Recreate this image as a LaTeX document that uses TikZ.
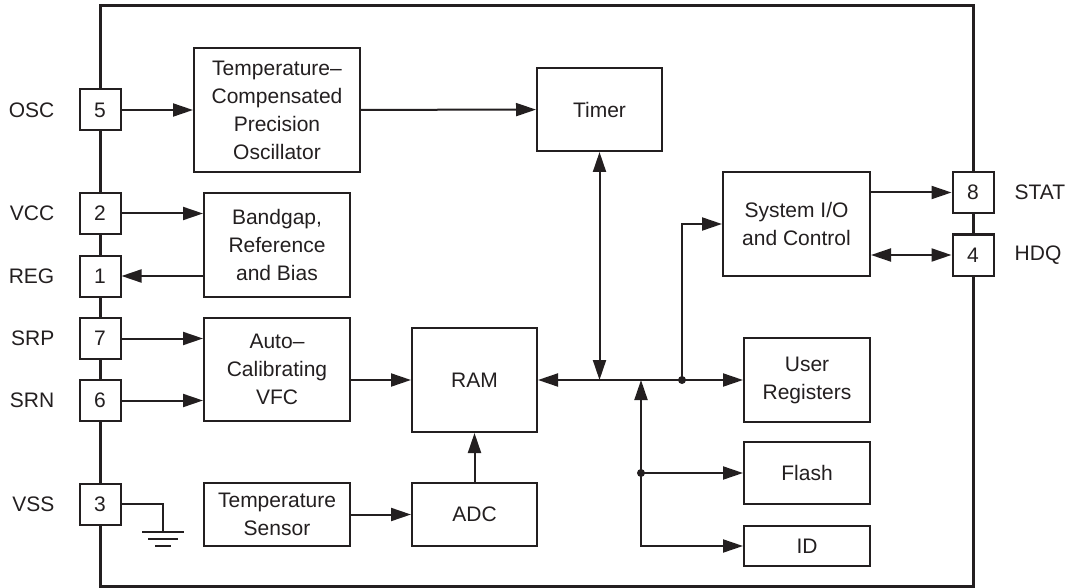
\documentclass[tikz,border=0pt]{standalone}
\usepackage{fontspec}
\setmainfont{Liberation Sans}
\usetikzlibrary{arrows.meta,positioning}
\definecolor{ink}{HTML}{231F20}
\tikzset{
  blk/.style={draw=ink,line width=2pt,fill=white,align=center,inner sep=0pt},
  pinbox/.style={draw=ink,line width=2pt,fill=white,minimum width=41pt,minimum height=41pt,inner sep=0pt},
  pinlbl/.style={inner sep=0pt,text=ink},
  wire/.style={draw=ink,line width=2pt},
}
\begin{document}
\begin{tikzpicture}[x=1pt,y=-1pt,>={Triangle[length=20pt,width=13pt]},
    font=\fontsize{21}{28}\selectfont,text=ink]
    \useasboundingbox (0,0) rectangle (1068,588);
    \draw[ink,line width=3pt] (100,6) rectangle (973,586);
    % pins
    \node[pinbox] (p5) at (100,110) {5};
    \node[pinbox] (p2) at (100,213.5) {2};
    \node[pinbox] (p1) at (100,276) {1};
    \node[pinbox] (p7) at (100,338.5) {7};
    \node[pinbox] (p6) at (100,400.5) {6};
    \node[pinbox] (p3) at (100,504) {3};
    \node[pinbox] (p8) at (973,192.5) {8};
    \node[pinbox] (p4) at (973,255) {4};
    \node[pinlbl,left=24pt of p5] {OSC};
    \node[pinlbl,left=24pt of p2] {VCC};
    \node[pinlbl,left=24pt of p1] {REG};
    \node[pinlbl,left=24pt of p7] {SRP};
    \node[pinlbl,left=24pt of p6] {SRN};
    \node[pinlbl,left=24pt of p3] {VSS};
    \node[pinlbl,right=20pt of p8] {STAT};
    \node[pinlbl,right=20pt of p4] {HDQ};
    % blocks
    \node[blk,minimum width=166pt,minimum height=124pt] (osc) at (277,110) {Temperature--\\Compensated\\Precision\\Oscillator};
    \node[blk,minimum width=146pt,minimum height=104pt] (bg) at (277,245) {Bandgap,\\Reference\\and Bias};
    \node[blk,minimum width=146pt,minimum height=103pt] (vfc) at (277,369.5) {Auto--\\Calibrating\\VFC};
    \node[blk,minimum width=146pt,minimum height=63pt] (tsens) at (277,514.5) {Temperature\\Sensor};
    \node[blk,minimum width=125pt,minimum height=104pt] (ram) at (474.5,380) {RAM};
    \node[blk,minimum width=125pt,minimum height=63pt] (adc) at (474.5,514.5) {ADC};
    \node[blk,minimum width=125pt,minimum height=83pt] (timer) at (599.5,109.5) {Timer};
    \node[blk,minimum width=147pt,minimum height=104pt] (sysio) at (796.5,224) {System I/O\\and Control};
    \node[blk,minimum width=126pt,minimum height=84pt] (ureg) at (807,380) {User\\Registers};
    \node[blk,minimum width=126pt,minimum height=62pt] (flash) at (807,473) {Flash};
    \node[blk,minimum width=126pt,minimum height=40pt] (id) at (807,546) {ID};
    \coordinate (tj) at (timer.south |- ram.east);
    \coordinate (sj) at (682,380);
    \coordinate (bj) at (641,380);
    \coordinate (fj) at (bj |- flash.west);
    % connectors
    \draw[wire,->] (p5) -- (osc);
    \draw[wire,->] (p2.east) -- (p2.east -| bg.west);
    \draw[wire,<-] (p1.east) -- (p1.east -| bg.west);
    \draw[wire,->] (p7.east) -- (p7.east -| vfc.west);
    \draw[wire,->] (p6.east) -- (p6.east -| vfc.west);
    \draw[wire,->] (osc) -- (timer);
    \draw[wire,->] (vfc.east |- ram.west) -- (ram.west);
    \draw[wire,->] (tsens.east |- adc.west) -- (adc.west);
    \draw[wire,->] (adc) -- (ram);
    \draw[wire,<->] (timer.south) -- (tj);
    \draw[wire,<->] (ram.east) -- (ureg.west);
    \draw[wire,->] (sj) |- (sysio.west);
    \draw[wire,<->] (bj) |- (id.west);
    \draw[wire,->] (fj) -- (flash.west);
    \draw[wire,->] (sysio.east |- p8.west) -- (p8.west);
    \draw[wire,<->] (sysio.east |- p4.west) -- (p4.west);
    \fill[ink] (sj) circle (4pt) (fj) circle (4pt);
    % ground
    \coordinate (gnd) at (163,532);
    \draw[wire] (p3.east) -| (gnd);
    \draw[wire] ([xshift=-21pt]gnd) -- ([xshift=21pt]gnd);
    \draw[wire] ([xshift=-15pt,yshift=-7pt]gnd) -- ([xshift=15pt,yshift=-7pt]gnd);
    \draw[wire] ([xshift=-8pt,yshift=-14pt]gnd) -- ([xshift=8pt,yshift=-14pt]gnd);
\end{tikzpicture}
\end{document}
